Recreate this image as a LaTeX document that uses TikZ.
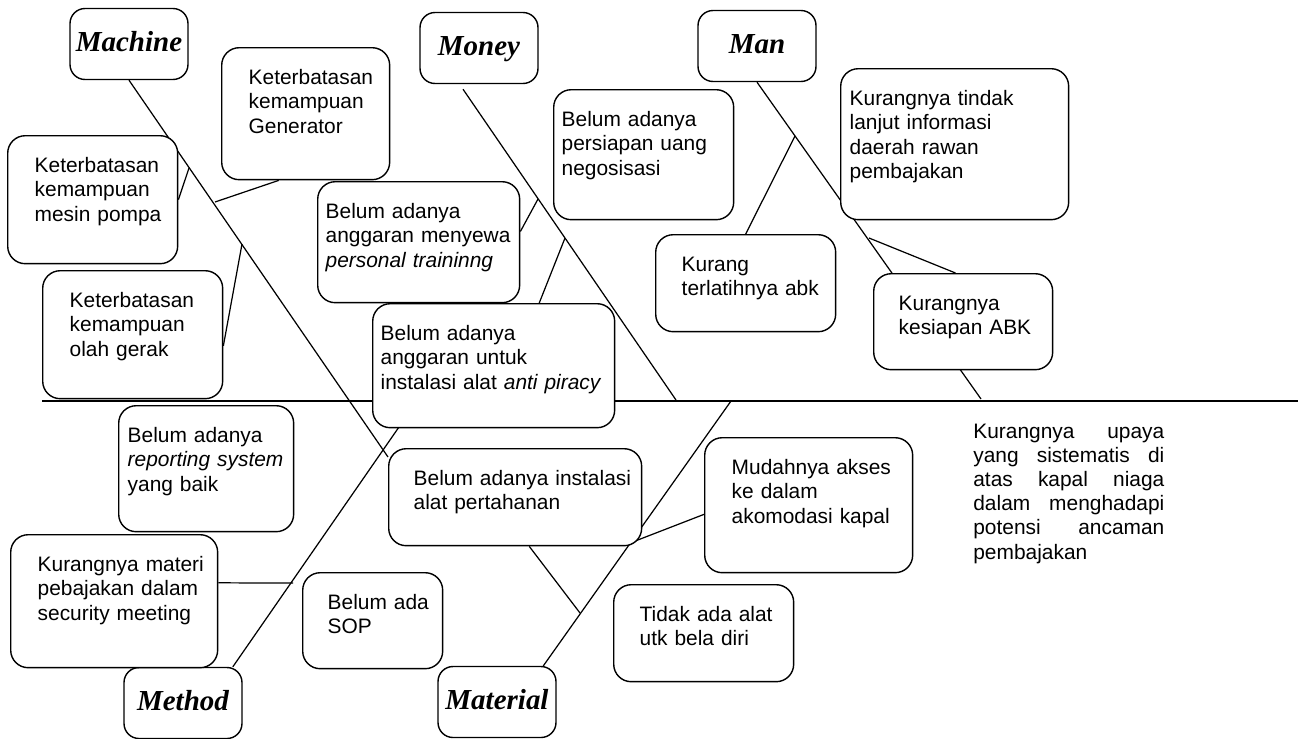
\documentclass[tikz,border=0pt]{standalone}
\usepackage{fontspec}
\setmainfont{Liberation Sans}
\newfontfamily\judulfont{Liberation Serif}
\usetikzlibrary{backgrounds}
\tikzset{
  sebab/.style n args={3}{draw,line width=.8pt,rounded corners=.35cm,fill=white,
    anchor=north west,inner sep=0pt,align=left,text width=#1,
    text height=.74cm,text depth=#2-.74cm,
    execute at begin node={\leftskip=#3\relax}},
  judul/.style={draw,line width=.8pt,rounded corners=.3cm,fill=white,
    minimum width=2.36cm,minimum height=1.42cm,inner sep=0pt,
    text height=.4cm,text depth=.12cm,
    font=\judulfont\fontsize{16.5}{19}\selectfont\bfseries\itshape},
  tulang/.style={line width=.7pt}
}
\begin{document}
\begin{tikzpicture}[x=0.02cm,y=-0.02cm,line cap=round,line join=round,
  font=\fontsize{11.9}{13.8}\selectfont]
\useasboundingbox (0,0) rectangle (1300,738);

\node[judul] (machine) at (129,44) {Machine};
\node[judul] (money) at (479,48) {Money};
\node[judul] (man) at (757,46) {Man};
\node[judul] (method) at (183,703) {Method};
\node[judul] (material) at (497,702) {Material};

\node[sebab={3.4cm}{2.56cm}{.54cm}] (pompa) at (7,135) {Keterbatasan\\kemampuan\\mesin pompa};
\node[sebab={3.36cm}{2.64cm}{.54cm}] (gen) at (221,47) {Keterbatasan\\kemampuan\\Generator};
\node[sebab={3.6cm}{2.56cm}{.54cm}] (olah) at (42,270) {Keterbatasan\\kemampuan\\olah gerak};
\node[sebab={4.04cm}{2.42cm}{.16cm}] (train) at (317,181) {Belum adanya\\anggaran menyewa\\\textit{personal traininng}};
\node[sebab={4.84cm}{2.48cm}{.16cm}] (piracy) at (372,303) {Belum adanya\\anggaran untuk\\instalasi alat \textit{anti piracy}};
\node[sebab={3.6cm}{2.6cm}{.16cm}] (uang) at (553,89) {Belum adanya\\persiapan uang\\negosisasi};
\node[sebab={3.6cm}{1.94cm}{.52cm}] (latih) at (655,234) {Kurang\\terlatihnya abk};
\node[sebab={4.56cm}{3.02cm}{.18cm}] (tindak) at (840,68) {Kurangnya tindak\\lanjut informasi\\daerah rawan\\pembajakan};
\node[sebab={3.58cm}{1.92cm}{.5cm}] (abk) at (873,273) {Kurangnya\\kesiapan ABK};
\node[sebab={3.5cm}{2.52cm}{.18cm}] (report) at (118,405) {Belum adanya\\\textit{reporting system}\\yang baik};
\node[sebab={4.14cm}{2.66cm}{.54cm}] (materi) at (10,534) {Kurangnya materi\\pebajakan dalam\\security meeting};
\node[sebab={2.8cm}{1.92cm}{.5cm}] (sop) at (302,572) {Belum ada\\SOP};
\node[sebab={5.06cm}{1.94cm}{.5cm}] (tahan) at (388,448) {Belum adanya instalasi\\alat pertahanan};
\node[sebab={4.16cm}{2.7cm}{.54cm}] (akses) at (704,437) {Mudahnya akses\\ke dalam\\akomodasi kapal};
\node[sebab={3.6cm}{1.94cm}{.52cm}] (alat) at (613,584) {Tidak ada alat\\utk bela diri};

\node[anchor=base west,inner sep=0pt,text width=3.82cm,align=justify,
  execute at begin node={\hyphenpenalty=10000\relax}] (akibat) at (973,438)
  {Kurangnya upaya\linebreak yang sistematis di\linebreak atas kapal niaga\linebreak dalam menghadapi\linebreak potensi ancaman\linebreak pembajakan};

\begin{scope}[on background layer]
\coordinate (ekor) at (42,401);
\coordinate (kepala) at (1298,401);
\draw[line width=.9pt] (ekor)--(kepala);
\coordinate (m0) at (388,457);
\coordinate (u0) at (676,400);
\coordinate (n0) at (981,399);
\coordinate (t0) at (417,401);
\coordinate (l0) at (731,401);
\draw[tulang] (machine.south)--(m0) ([shift={(-16,5)}]money.south)--(u0) (man.south)--(n0)
  (method.36)--(t0) (material.38)--(l0);
\coordinate (m1) at (189,168); \coordinate (m2) at (215,202); \coordinate (m3) at (242,244);
\coordinate (u1) at (538,199); \coordinate (u2) at (565,238);
\coordinate (n1) at (795,136); \coordinate (n2) at (869,238);
\coordinate (t1) at (293,583);
\coordinate (l1) at (580,613); \coordinate (l2) at (630,543);
\draw[tulang] (pompa.east)--(m1) (gen.-112)--(m2) (olah.-7)--(m3)
  (train.6)--(u1) (piracy.54)--(u2)
  (latih.north)--(n1) (abk.99)--(n2)
  (materi.10)--(t1)
  (tahan.-74)--(l1) (akses.185)--(l2);
\end{scope}
\end{tikzpicture}
\end{document}
